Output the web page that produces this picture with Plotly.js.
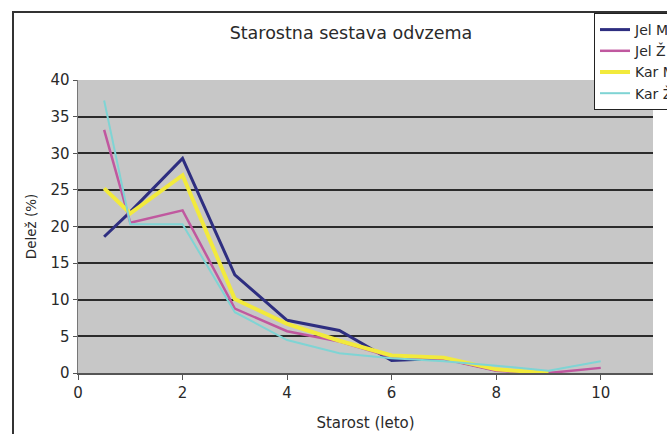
<!DOCTYPE html>
<html>
<head>
<meta charset="utf-8">
<script src="https://cdn.plot.ly/plotly-3.0.1.min.js"></script>
<style>
html,body{margin:0;padding:0;background:#fff;overflow:hidden;width:667px;height:434px;}
#chart{position:absolute;left:0;top:0;width:740px;height:434px;}
.fr{position:absolute;background:#333;pointer-events:none;}
</style>
</head>
<body>
<div id="chart"></div>
<div class="fr" style="left:12px;top:11px;width:655px;height:2px;"></div>
<div class="fr" style="left:12px;top:11px;width:2px;height:423px;"></div>
<script>
const ages = [0.5, 1, 2, 3, 4, 5, 6, 7, 8, 9, 10];
const seriesNames = ["Jel M", "Jel Ž", "Kar M", "Kar Ž"];
const jelM = [18.6, 22.0, 29.3, 13.4, 7.2, 5.8, 1.7, 2.0, 0.4, 0.0, null];
const jelZ = [33.2, 20.5, 22.2, 8.8, 5.7, 4.3, 2.2, 1.9, 0.3, 0.0, 0.7];
const karM = [25.2, 21.8, 27.0, 10.1, 6.7, 4.4, 2.4, 2.1, 0.5, 0.0, null];
const karZ = [37.2, 20.3, 20.3, 8.3, 4.5, 2.7, 2.0, 1.6, 1.0, 0.3, 1.6];
const xTicks = [0, 2, 4, 6, 8, 10];
const yTicks = [0, 5, 10, 15, 20, 25, 30, 35, 40];

const colors = ["#2e2e80", "#c0589f", "#f2ea3c", "#7fd4d4"];
const widths = [3, 2.5, 4, 2];
const values = [jelM, jelZ, karM, karZ];

const traces = values.map((v, i) => ({
  x: ages, y: v, type: "scatter", mode: "lines", name: seriesNames[i],
  line: {color: colors[i], width: widths[i]}, connectgaps: false
}));

const W = 740, H = 434;
const ml = 78, mt = 80, mr = W - 653, mb = 61;
const pw = W - ml - mr, ph = H - mt - mb;

const layout = {
  width: W, height: H,
  margin: {l: ml, r: mr, t: mt, b: mb, pad: 0},
  paper_bgcolor: "#ffffff",
  plot_bgcolor: "#c7c7c7",
  font: {family: "DejaVu Sans, sans-serif", color: "#2a2a2a", size: 12},
  title: {
    text: "Starostna sestava odvzema",
    font: {size: 17.5, color: "#2a2a2a"},
    xref: "paper", x: (351 - ml) / pw, xanchor: "center",
    yref: "container", y: 1 - 33 / H, yanchor: "middle"
  },
  xaxis: {
    range: [0, 11], tickvals: xTicks, ticktext: xTicks.map(String),
    showgrid: false, zeroline: false,
    showline: true, linecolor: "#555", linewidth: 2,
    ticks: "outside", ticklen: 5, tickcolor: "#555",
    tickfont: {size: 15},
    title: {text: "Starost (leto)", font: {size: 15}, standoff: 16}
  },
  yaxis: {
    range: [0, 40], tickvals: yTicks, ticktext: yTicks.map(String),
    showgrid: true, gridcolor: "#2b2b2b", gridwidth: 2,
    zeroline: false, showline: true, linecolor: "#777", linewidth: 1.5,
    ticks: "outside", ticklen: 4, tickcolor: "#555",
    tickfont: {size: 15},
    title: {text: "Delež (%)", font: {size: 13.5}, standoff: 10}
  },
  showlegend: true,
  legend: {
    x: (594 - ml) / pw, xanchor: "left",
    y: 1 + (mt - 13) / ph, yanchor: "top",
    bgcolor: "#ffffff", bordercolor: "#222", borderwidth: 1,
    font: {size: 14, color: "#2a2a2a"},
    tracegroupgap: 0, itemwidth: 30
  }
};

Plotly.newPlot("chart", traces, layout, {displayModeBar: false, staticPlot: true});
</script>
</body>
</html>
